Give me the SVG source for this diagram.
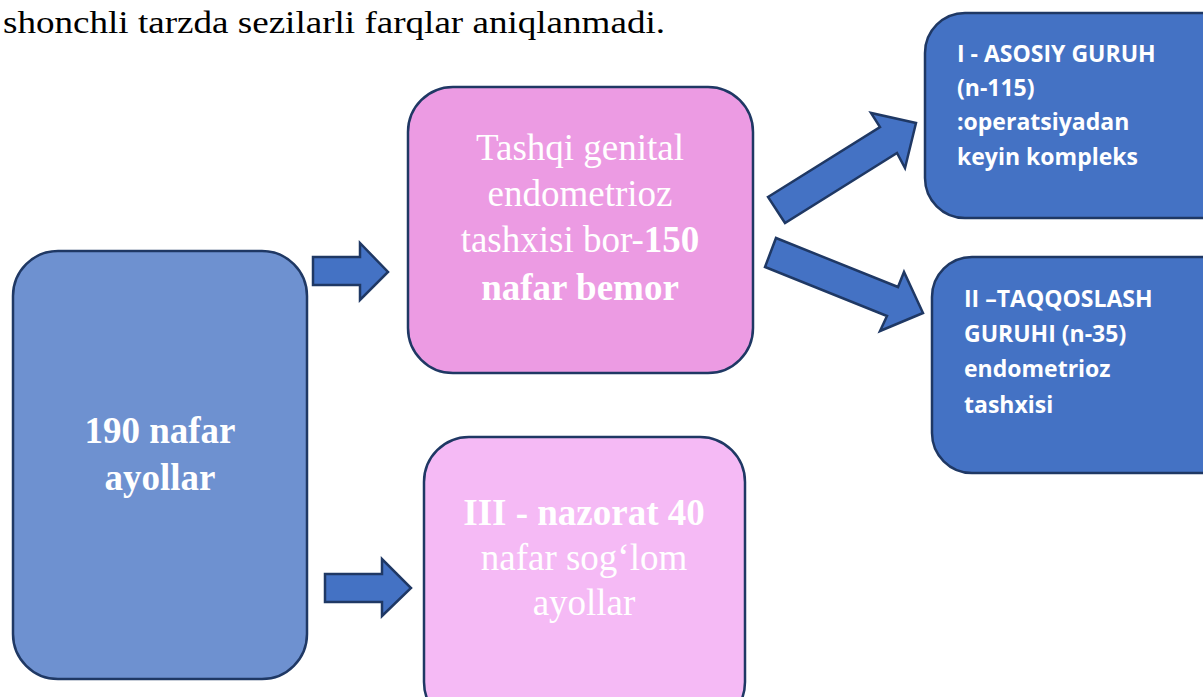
<svg xmlns="http://www.w3.org/2000/svg" width="1203" height="697" viewBox="0 0 1203 697">
<style>
.box{stroke:#1F3864;stroke-width:2.5}
.arr{fill:#4472C4;stroke:#1F3864;stroke-width:2.5;stroke-linejoin:miter}
.ser{font-family:"Liberation Serif","Times New Roman",serif;fill:#ffffff;text-anchor:middle;font-size:37px}
.b{font-weight:bold}
.sans{font-family:"Open Sans","Noto Sans",sans-serif;font-weight:bold;fill:#ffffff;font-size:23px}
</style>
<rect width="1203" height="697" fill="#ffffff"/>
<text x="3" y="33" font-family="Liberation Serif,'Times New Roman',serif" font-size="32" fill="#000000" textLength="662" lengthAdjust="spacingAndGlyphs">shonchli tarzda sezilarli farqlar aniqlanmadi.</text>
<g id="connectors">
<polygon class="arr" points="313,257 360,257 360,243 388,272 360,300 360,285 313,285"/>
<polygon class="arr" points="325,574 382,574 382,559 411,588 382,616 382,602 325,602"/>
<polygon class="arr" points="768,197 880,127 871,113 916,123 905,168 897,153 785,223"/>
<polygon class="arr" points="776,238 898,287 904,272 923,313 880,331 887,316 765,267"/>
</g>
<g id="node-total">
<rect class="box" x="13" y="251" width="294" height="428" rx="45" fill="#6E91D0"/>
<text class="ser b" x="160" y="443">190 nafar</text>
<text class="ser b" x="160" y="490">ayollar</text>
</g>
<g id="node-endometrioz">
<rect class="box" x="408" y="87" width="345" height="286" rx="45" fill="#EC9BE3"/>
<text class="ser" x="580" y="160">Tashqi genital</text>
<text class="ser" x="580" y="206">endometrioz</text>
<text class="ser" x="580" y="252">tashxisi bor-<tspan class="b">150</tspan></text>
<text class="ser b" x="580" y="300">nafar bemor</text>
</g>
<g id="node-nazorat">
<rect class="box" x="424" y="437" width="321" height="290" rx="45" fill="#F5BAF5"/>
<text class="ser b" x="584" y="525">III - nazorat 40</text>
<text class="ser" x="584" y="570">nafar sog‘lom</text>
<text class="ser" x="584" y="615">ayollar</text>
</g>
<g id="node-asosiy">
<rect class="box" x="925" y="13" width="320" height="205" rx="40" fill="#4472C4"/>
<text class="sans" x="957" y="62">I - ASOSIY GURUH</text>
<text class="sans" x="957" y="96">(n-115)</text>
<text class="sans" x="957" y="130">:operatsiyadan</text>
<text class="sans" x="957" y="165">keyin kompleks</text>
</g>
<g id="node-taqqoslash">
<rect class="box" x="932" y="257" width="320" height="216" rx="40" fill="#4472C4"/>
<text class="sans" x="964" y="307">II –TAQQOSLASH</text>
<text class="sans" x="964" y="342">GURUHI (n-35)</text>
<text class="sans" x="964" y="377">endometrioz</text>
<text class="sans" x="964" y="413">tashxisi</text>
</g>
</svg>
